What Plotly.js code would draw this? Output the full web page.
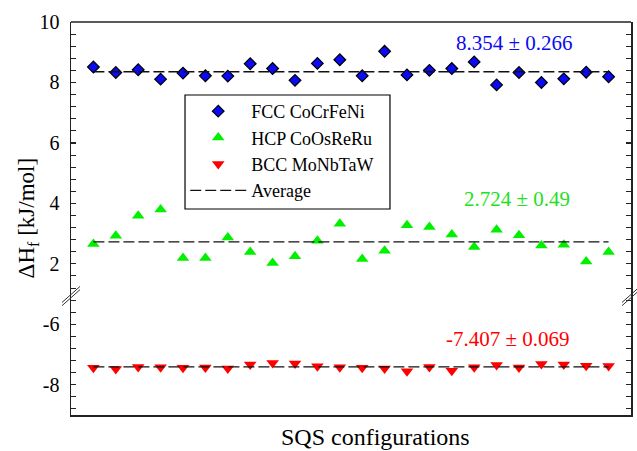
<!DOCTYPE html>
<html>
<head>
<meta charset="utf-8">
<script src="https://cdn.plot.ly/plotly-3.0.1.min.js"></script>
<style>
  html, body { margin: 0; padding: 0; background: #fff; }
  #chart { width: 637px; height: 451px; }
</style>
</head>
<body>
<div id="chart"></div>
<script>
// Formation enthalpies (kJ/mol) of 24 SQS configurations per alloy
const configs = Array.from({length: 24}, (_, i) => i + 1);

const fccName = "FCC CoCrFeNi";
const fccValues = [8.51, 8.33, 8.42, 8.11, 8.31, 8.22, 8.21, 8.62, 8.46, 8.07, 8.63, 8.75,
                   8.22, 9.03, 8.25, 8.40, 8.46, 8.68, 7.92, 8.33, 8.00, 8.12, 8.34, 8.19];

const hcpName = "HCP CoOsReRu";
const hcpValues = [2.66, 2.93, 3.59, 3.80, 2.19, 2.19, 2.87, 2.39, 2.03, 2.25, 2.76, 3.33,
                   2.16, 2.43, 3.28, 3.22, 2.97, 2.56, 3.13, 2.95, 2.61, 2.63, 2.08, 2.39];

const bccName = "BCC MoNbTaW";
const bccValues = [-7.44, -7.48, -7.41, -7.42, -7.44, -7.43, -7.46, -7.33, -7.28, -7.30, -7.39, -7.42,
                   -7.44, -7.46, -7.55, -7.41, -7.54, -7.42, -7.35, -7.43, -7.31, -7.33, -7.37, -7.38];

// Mean and standard deviation per alloy (FCC, HCP, BCC)
const means = [8.354, 2.724, -7.407];
const stdevs = ["0.266", "0.49", "0.069"];
const meanLabels = ["8.354", "2.724", "-7.407"];

// Tick labels of the lower (negative) panel, written with a plain hyphen
const lowerTickVals = [-8, -6];
const lowerTickText = ["-8", "-6"];

const serif = "Liberation Serif";
const breakFrac = 4 / 13;   // lower panel spans -9..-5, upper panel 1..10

const blue = "#0a0af5", green = "#00f000", red = "#ff0000";

const traces = [
  { x: configs, y: fccValues, xaxis: "x", yaxis: "y2", type: "scatter", mode: "markers",
    name: fccName,
    marker: { symbol: "diamond", size: 9, color: blue, line: { color: "#000", width: 1.2 } } },
  { x: configs, y: hcpValues, xaxis: "x", yaxis: "y2", type: "scatter", mode: "markers",
    name: hcpName,
    marker: { symbol: "triangle-up", size: 11, color: green, line: { width: 0 } } },
  { x: configs, y: bccValues, xaxis: "x", yaxis: "y", type: "scatter", mode: "markers",
    name: bccName,
    marker: { symbol: "triangle-down", size: 11, color: red, line: { width: 0 } } }
];

// Dashed average lines across the configurations (one legend entry)
const avgAxes = ["y2", "y2", "y"];
means.forEach((m, i) => {
  traces.push({
    x: [configs[0], configs[configs.length - 1]], y: [m, m],
    xaxis: "x", yaxis: avgAxes[i], type: "scatter", mode: "lines",
    name: "Average", legendgroup: "avg", showlegend: i === 0,
    line: { color: "#111", width: 1.3, dash: "11px,4px" }
  });
});

const statColors = [blue, "#22e022", red];
const statPos = [
  { x: 19.8, y: 9.31, yref: "y2" },
  { x: 19.9, y: 4.15, yref: "y2" },
  { x: 19.5, y: -6.47, yref: "y" }
];
const annotations = statPos.map((p, i) => ({
  x: p.x, y: p.y, xref: "x", yref: p.yref, showarrow: false,
  xanchor: "center", yanchor: "middle",
  text: meanLabels[i] + " ± " + stdevs[i],
  font: { family: serif, size: 21, color: statColors[i] }
}));
annotations.push({
  x: -0.077, y: 0.5, xref: "paper", yref: "paper", showarrow: false, textangle: -90,
  xanchor: "center", yanchor: "middle",
  text: "ΔH<sub>f</sub> [kJ/mol]", font: { family: serif, size: 23, color: "#000" }
});
annotations.push({
  x: 0.544, y: -0.056, xref: "paper", yref: "paper", showarrow: false,
  xanchor: "center", yanchor: "middle",
  text: "SQS configurations", font: { family: serif, size: 24, color: "#000" }
});

const shapes = [
  // top edge of the frame
  { type: "line", xref: "paper", yref: "paper", x0: 0, x1: 1, y0: 1, y1: 1,
    line: { color: "#222", width: 1.5 } },
  // legend box
  { type: "rect", xref: "paper", yref: "paper", layer: "above",
    x0: 0.2036, x1: 0.5696, y0: 0.5242, y1: 0.8142,
    fillcolor: "#fff", line: { color: "#000", width: 1.2 } }
];
// Axis break marks ("//") on both sides of the frame
[0, 1].forEach(side => {
  [-1.6, 1.6].forEach(off => {
    shapes.push({
      type: "line", xref: "paper", yref: "paper",
      xsizemode: "pixel", ysizemode: "pixel",
      xanchor: side, yanchor: breakFrac,
      x0: -9, x1: 9, y0: -8 + off - 2, y1: 8 + off - 2,
      line: { color: "#333", width: 1 }
    });
  });
});

const yCommon = {
  showline: true, linecolor: "#222", linewidth: 1.5, mirror: "ticks",
  ticks: "inside", ticklen: 5, tickwidth: 1.2, tickcolor: "#222",
  showgrid: false, zeroline: false,
  tickfont: { family: serif, size: 20, color: "#000" },
  ticklabelstandoff: 6,
  minor: { ticks: "inside", ticklen: 5, tickwidth: 1, tickcolor: "#222", dtick: 0.4, showgrid: false }
};

const layout = {
  width: 637, height: 451,
  margin: { l: 71, r: 6, t: 22, b: 36 },
  paper_bgcolor: "#fff", plot_bgcolor: "#fff",
  font: { family: serif, color: "#000" },
  showlegend: true,
  legend: {
    x: 0.204, y: 0.8195, xanchor: "left", yanchor: "top",
    bgcolor: "rgba(0,0,0,0)", borderwidth: 0,
    font: { family: serif, size: 18, color: "#000" },
    itemwidth: 56, tracegroupgap: 0
  },
  xaxis: {
    range: [0, 25], anchor: "y",
    showline: true, linecolor: "#222", linewidth: 1.5,
    ticks: "", showticklabels: false, showgrid: false, zeroline: false
  },
  yaxis: Object.assign({}, yCommon, {
    domain: [0, breakFrac], range: [-9, -5], anchor: "x",
    tickmode: "array", tickvals: lowerTickVals, ticktext: lowerTickText,
    minor: Object.assign({}, yCommon.minor, { tick0: -8 })
  }),
  yaxis2: Object.assign({}, yCommon, {
    domain: [breakFrac, 1], range: [1, 10], anchor: "x",
    dtick: 2, tick0: 0,
    minor: Object.assign({}, yCommon.minor, { tick0: 2 })
  }),
  annotations: annotations,
  shapes: shapes
};

Plotly.newPlot("chart", traces, layout, { staticPlot: true, displayModeBar: false });
</script>
</body>
</html>
